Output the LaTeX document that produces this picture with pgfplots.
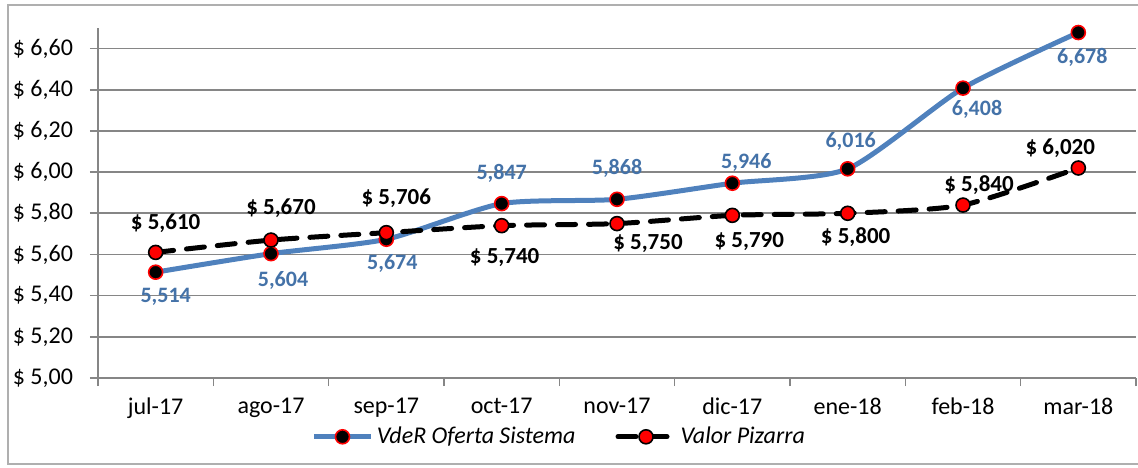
\documentclass[border=0pt]{standalone}
\usepackage{fontspec}
\setmainfont{Carlito}
\usepackage{pgfplots}
\usepackage{pgfplotstable}
\pgfplotsset{compat=1.18}
\definecolor{vblue}{RGB}{79,129,189}
\definecolor{lblue}{RGB}{68,114,168}
\definecolor{gridgray}{RGB}{134,134,134}
\definecolor{brd}{RGB}{175,175,175}

\pgfplotstableread{
x y dx dy
0 5.514 5 -12.5
1 5.604 6 -13.5
2 5.674 3 -12
3 5.847 0 15
4 5.868 0 15.5
5 5.946 7 10.5
6 6.016 1.5 13.5
7 6.408 7 -10.5
8 6.678 2 -12.5
}\vder

\pgfplotstableread{
x y dx dy
0 5.610 5 14.5
1 5.670 5 16
2 5.706 5 17
3 5.740 1.5 -16
4 5.750 15.5 -10
5 5.790 8.5 -13
6 5.800 4 -12
7 5.840 8 10
8 6.020 -9 10
}\pizarra

\begin{document}
\begin{tikzpicture}
\path[use as bounding box] (-49pt,-44.5pt) rectangle (520pt,189pt);
\draw[brd, line width=0.8pt] (-45pt,-43pt) rectangle (523pt,186.5pt);
\begin{axis}[
  scale only axis, width=519pt, height=175pt,
  xmin=-0.5, xmax=8.5, ymin=5, ymax=6.7,
  clip=false,
  /pgf/number format/assume math mode=true,
  axis x line*=bottom, axis y line*=left,
  axis line style={gridgray, line width=0.8pt},
  ytick={5,5.2,5.4,5.6,5.8,6.0,6.2,6.4,6.6},
  yticklabels={{\$ 5,00},{\$ 5,20},{\$ 5,40},{\$ 5,60},{\$ 5,80},{\$ 6,00},{\$ 6,20},{\$ 6,40},{\$ 6,60}},
  ymajorgrids, grid style={gridgray, line width=0.8pt},
  xtick={-0.5,0.5,...,8.5}, xticklabels={},
  extra x ticks={0,1,2,3,4,5,6,7,8},
  extra x tick labels={jul-17,ago-17,sep-17,oct-17,nov-17,dic-17,ene-18,feb-18,mar-18},
  extra x tick style={major tick length=0pt, grid=none},
  tick align=outside, major tick length=4pt,
  tick style={gridgray, line width=0.8pt},
  tick label style={font=\fontsize{12}{14}\selectfont},
  yticklabel style={xshift=-5pt},
  xticklabel style={yshift=-6.5pt},
  legend style={at={(0.2,-0.168)}, anchor=west, draw=none, fill=none,
    font=\fontsize{12}{14}\selectfont\itshape,
    /tikz/every even column/.append style={column sep=18pt}},
  legend columns=2, legend cell align=left,
  legend image code/.code={\draw[mark repeat=2,mark phase=2,#1] plot coordinates {(0pt,0pt) (14pt,0pt) (28pt,0pt)};},
]
\addplot[vblue, line width=2.5pt, smooth, tension=0.4, mark=*, mark size=3.5pt,
  mark options={fill=black, draw=red, line width=0.8pt, solid},
  point meta=y,
  nodes near coords={\pgfmathprintnumber[fixed,fixed zerofill,precision=3,use comma,assume math mode=true]{\pgfplotspointmeta}},
  visualization depends on={\thisrow{dx} \as \dx},
  visualization depends on={\thisrow{dy} \as \dy},
  every node near coord/.style={anchor=center, xshift=\dx pt, yshift=\dy pt,
    font=\fontsize{11}{13}\selectfont\bfseries, text=lblue}
] table[x=x,y=y] {\vder};
\addlegendentry{VdeR Oferta Sistema}
\addplot[black, line width=2.5pt, smooth, tension=0.4, dash pattern=on 9pt off 6.5pt, line cap=round,
  mark=*, mark size=3.5pt,
  mark options={fill=red, draw=black, line width=0.8pt, solid},
  point meta=y,
  nodes near coords={\$~\pgfmathprintnumber[fixed,fixed zerofill,precision=3,use comma,assume math mode=true]{\pgfplotspointmeta}},
  visualization depends on={\thisrow{dx} \as \dx},
  visualization depends on={\thisrow{dy} \as \dy},
  every node near coord/.style={anchor=center, xshift=\dx pt, yshift=\dy pt,
    font=\fontsize{11.5}{13}\selectfont\bfseries, text=black}
] table[x=x,y=y] {\pizarra};
\addlegendentry{Valor Pizarra}
\end{axis}
\end{tikzpicture}
\end{document}
